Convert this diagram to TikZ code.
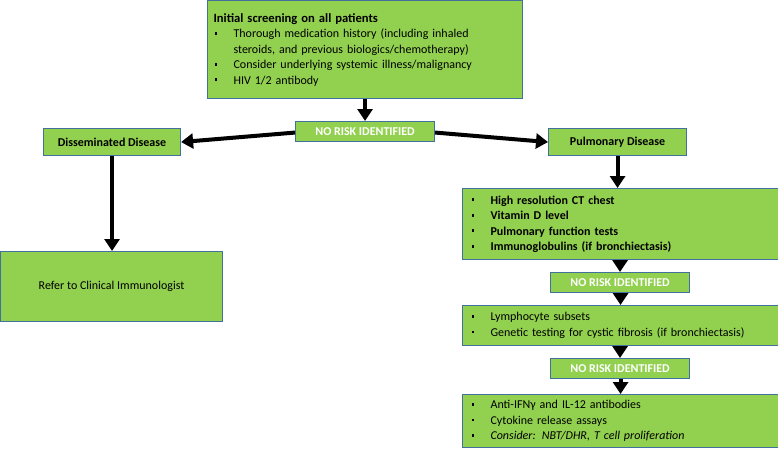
\documentclass[tikz,border=0pt]{standalone}
\usepackage{fontspec}
\setmainfont{Carlito}
\usetikzlibrary{arrows.meta}
\definecolor{boxgreen}{HTML}{92D050}
\definecolor{boxedge}{HTML}{41719C}
\newcommand{\bul}[1]{\makebox[20pt][l]{\hspace{1pt}\raisebox{3pt}{\rule{2.6pt}{2.6pt}}}#1}
\tikzset{
    greenbox/.style={draw=boxedge,fill=boxgreen,line width=1.1pt,anchor=north west,
        font=\fontsize{12}{15.5}\selectfont,inner ysep=0pt},
    riskbox/.style={greenbox,text=white,font=\bfseries\fontsize{12}{14}\selectfont,
        minimum width=139pt,minimum height=20pt},
    bigarrow/.style={line width=4pt,-{Triangle[width=15pt,length=12pt]}}
}
\begin{document}
\begin{tikzpicture}[x=1pt,y=-1pt]
    \useasboundingbox (0,0) rectangle (778,448);
    % screening for all
    \node[greenbox,text width=303pt,inner xsep=6pt,minimum height=98pt,align=left] (screen) at (207,0)
        {{\bfseries\fontsize{12.6}{15.5}\selectfont Initial screening on all patients}\\
         \bul{Thorough medication history (including inhaled}\\
         \hspace{20pt}steroids, and previous biologics/chemotherapy)\\
         \bul{Consider underlying systemic illness/malignancy}\\
         \bul{HIV 1/2 antibody}};
    \node[riskbox] (risk1) at (295,121) {NO RISK IDENTIFIED};
    \node[greenbox,font=\bfseries\fontsize{12}{14}\selectfont,minimum width=137pt,minimum height=27pt] (dissem) at (43,128) {Disseminated Disease};
    \node[greenbox,font=\bfseries\fontsize{12}{14}\selectfont,minimum width=138pt,minimum height=27pt] (pulm) at (548,128) {Pulmonary Disease};
    \node[greenbox,minimum width=222pt,minimum height=70pt] (refer) at (0,251) {Refer to Clinical Immunologist};
    % pulmonary work up
    \node[greenbox,text width=300pt,inner xsep=8pt,minimum height=71pt,align=left,font=\bfseries\fontsize{12}{15.5}\selectfont] (tests1) at (462,188)
        {\bul{High resolution CT chest}\\
         \bul{Vitamin D level}\\
         \bul{Pulmonary function tests}\\
         \bul{Immunoglobulins (if bronchiectasis)}};
    \node[riskbox] (risk2) at (550,272) {NO RISK IDENTIFIED};
    \node[greenbox,text width=300pt,inner xsep=8pt,minimum height=40pt,align=left] (tests2) at (462,305)
        {\bul{Lymphocyte subsets}\\
         \bul{Genetic testing for cystic fibrosis (if bronchiectasis)}};
    \node[riskbox] (risk3) at (550,358) {NO RISK IDENTIFIED};
    \node[greenbox,text width=300pt,inner xsep=8pt,minimum height=53pt,align=left] (tests3) at (462,394)
        {\bul{Anti-IFNγ and IL-12 antibodies}\\
         \bul{Cytokine release assays}\\
         \bul{\textit{Consider: NBT/DHR, T cell proliferation}}};
    % arrows
    \draw[bigarrow] (screen.south) -- (risk1.north);
    \draw[bigarrow] ([yshift=-1pt]risk1.west) -- (dissem.east);
    \draw[bigarrow] ([yshift=-1pt]risk1.east) -- (pulm.west);
    \draw[bigarrow] (dissem.south) -- (dissem.south |- refer.north);
    \draw[bigarrow] (pulm.south) -- (pulm.south |- tests1.north);
    \foreach \a/\b in {tests1/risk2,risk2/tests2,tests2/risk3,risk3/tests3}
        \draw[bigarrow] (\b.north |- \a.south) -- (\b.north);
\end{tikzpicture}
\end{document}
